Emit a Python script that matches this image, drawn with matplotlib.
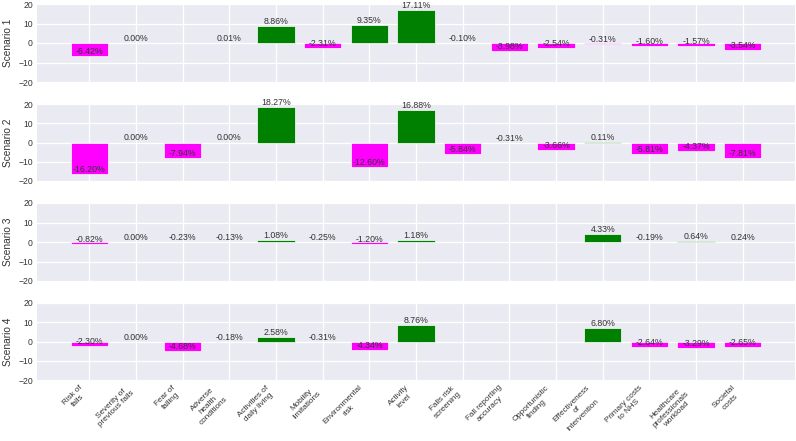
import numpy as np
import matplotlib
matplotlib.use("Agg")
import matplotlib.pyplot as plt

categories = ["Risk of\nfalls", "Severity of\nprevious falls", "Fear of\nfalling",
              "Adverse\nhealth\nconditions", "Activities of\ndaily living",
              "Mobility\nlimitations", "Environmental\nrisk", "Activity\nlevel",
              "Falls risk\nscreening", "Fall reporting\naccuracy",
              "Opportunistic\nfinding", "Effectiveness\nof\nintervention",
              "Primary costs\nto NHS", "Healthcare\nprofessionals\nworkload",
              "Societal\ncosts"]
nan = np.nan
scenario_1 = [-6.42, 0.00, nan, 0.01, 8.86, -2.31, 9.35, 17.11, -0.10, -3.98, -2.54, -0.31, -1.60, -1.57, -3.54]
scenario_2 = [-16.20, 0.00, -7.94, 0.00, 18.27, nan, -12.60, 16.88, -5.84, -0.31, -3.66, 0.11, -5.81, -4.37, -7.81]
scenario_3 = [-0.82, 0.00, -0.23, -0.13, 1.08, -0.25, -1.20, 1.18, nan, nan, nan, 4.33, -0.19, 0.64, 0.24]
scenario_4 = [-2.30, 0.00, -4.68, -0.18, 2.58, -0.31, -4.34, 8.76, nan, nan, nan, 6.80, -2.64, -3.29, -2.65]
scenarios = [scenario_1, scenario_2, scenario_3, scenario_4]
scenario_names = ["Scenario 1", "Scenario 2", "Scenario 3", "Scenario 4"]
yticks = [-20, -10, 0, 10, 20]

plt.rcParams['font.family'] = ['Liberation Sans', 'DejaVu Sans']
fig = plt.figure(figsize=(7.96, 4.41), dpi=100)

W, H = 796, 441
panels = [(4, 82), (104, 181), (203, 281), (303, 380)]
x = np.arange(len(categories))
for i, (vals, name) in enumerate(zip(scenarios, scenario_names)):
    top, bot = panels[i]
    ax = fig.add_axes([37 / W, 1 - bot / H, (795 - 37) / W, (bot - top) / H])
    ax.set_facecolor('#EAEAF2')
    ax.set_axisbelow(True)
    ax.grid(True, color='white', linewidth=0.9)
    for s in ax.spines.values():
        s.set_visible(False)
    v = np.array(vals, dtype=float)
    colors = ['#008000' if (not np.isnan(t) and t > 0) else '#FF00FF' for t in v]
    ax.bar(x, np.nan_to_num(v), width=0.8, color=colors, edgecolor='white', linewidth=0.5)
    for xi, t in zip(x, v):
        if np.isnan(t):
            continue
        ax.text(xi, t, f"{t:.2f}%", ha='center', va='bottom', fontsize=6.3, color='#333333')
    ax.set_xlim(-1.12, 15.12)
    ax.set_ylim(-20, 20)
    ax.set_yticks(yticks)
    ax.set_xticks(x)
    ax.tick_params(length=0, labelsize=6.2, colors='#333333', pad=3)
    ax.set_ylabel(name, fontsize=7.3, color='#333333', labelpad=4)
    if i < 3:
        ax.set_xticklabels([])
    else:
        ax.set_xticklabels(categories, rotation=45, ha='right', rotation_mode='default',
                           multialignment='center', fontsize=5.9)

fig.savefig("out.png", dpi=100)
